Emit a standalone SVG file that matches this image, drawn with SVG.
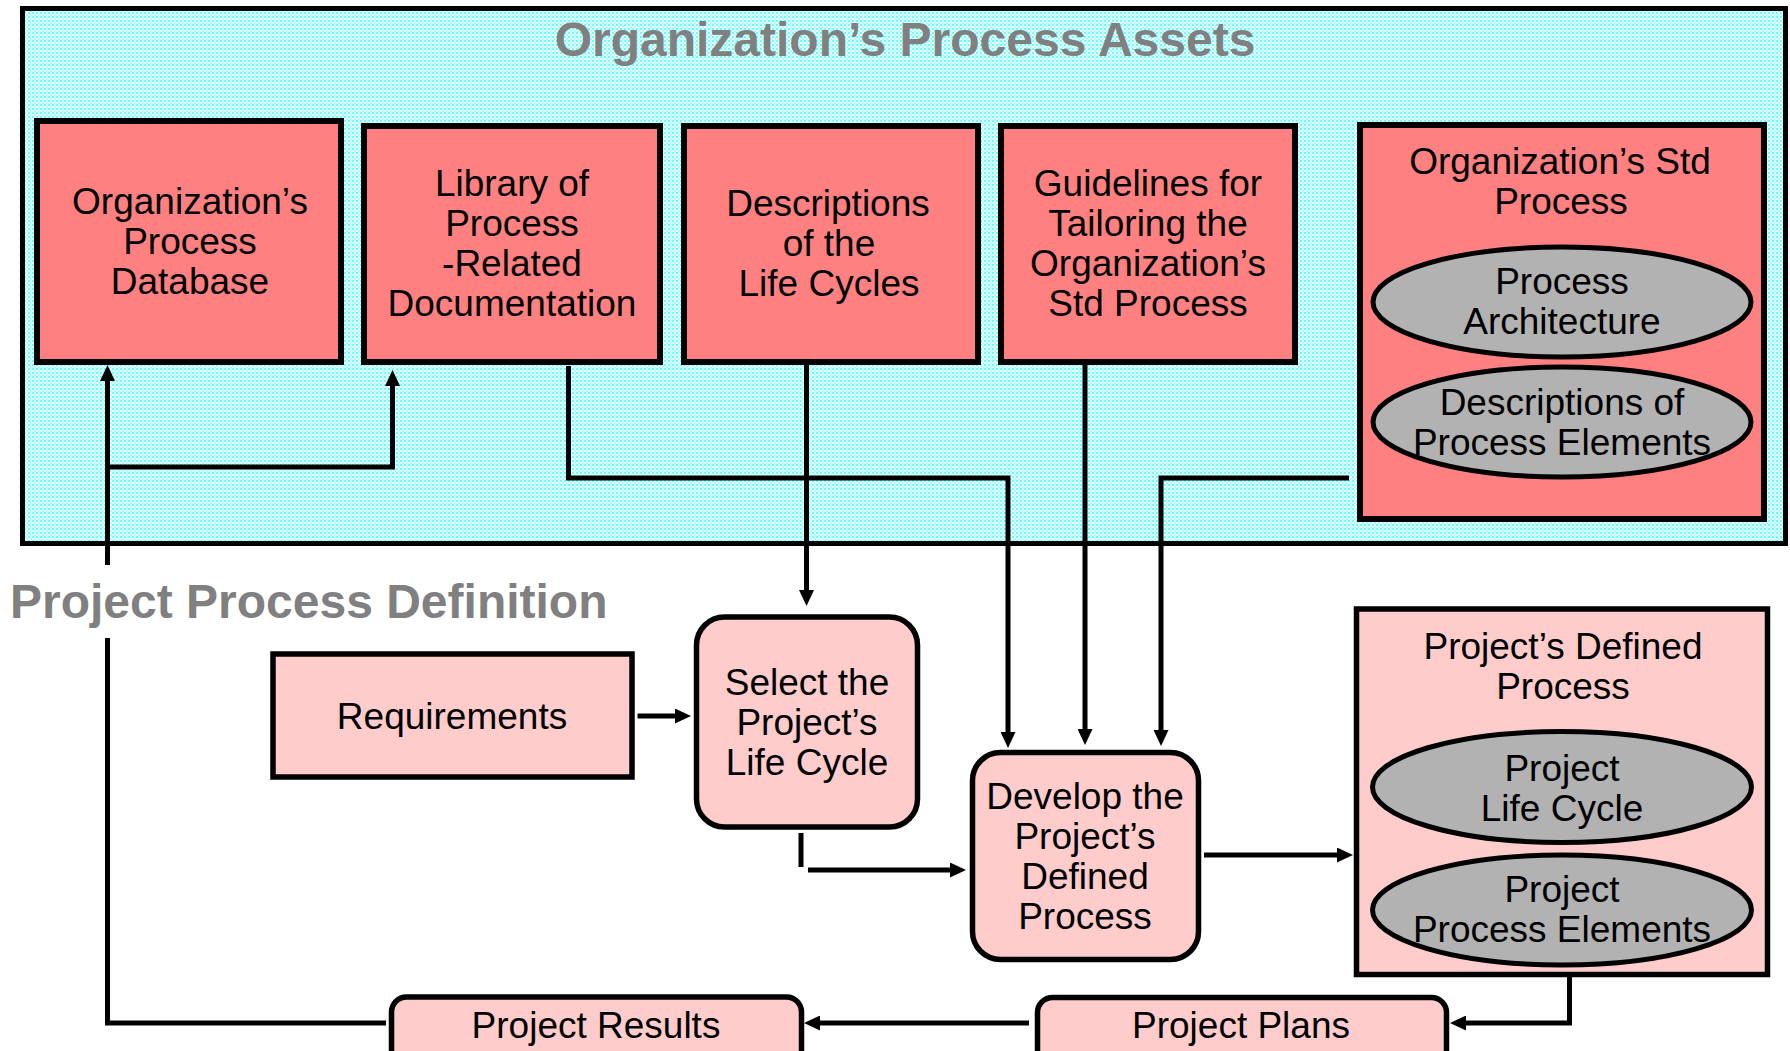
<svg xmlns="http://www.w3.org/2000/svg" width="1790" height="1051" viewBox="0 0 1790 1051">
<defs>
<pattern id="dots" width="4" height="4" patternUnits="userSpaceOnUse">
<rect width="4" height="4" fill="#E8FFFF"/>
<rect x="0" y="0" width="2" height="2" fill="#66FFFF"/>
<rect x="2" y="2" width="2" height="2" fill="#B0FFFF"/>
</pattern>
<marker id="arr" viewBox="0 0 16 15" refX="2" refY="7.5" markerWidth="16" markerHeight="15" markerUnits="userSpaceOnUse" orient="auto">
<path d="M0,0 L16,7.5 L0,15 z" fill="#000"/>
</marker>
<style>
text{font-family:"Liberation Sans",Arial,Helvetica,sans-serif;fill:#000;text-anchor:middle;font-size:37px}
.title{font-weight:bold;fill:#808080;font-size:48px}
.asset{fill:#FF8080;stroke:#000;stroke-width:6}
.proj{fill:#FFCCCC;stroke:#000;stroke-width:5.5}
.ell{fill:#B2B2B2;stroke:#000;stroke-width:5}
.conn{fill:none;stroke:#000;stroke-width:5}
.arrow{marker-end:url(#arr)}
</style>
</defs>
<rect width="1790" height="1051" fill="#FFFFFF"/>

<g id="org-process-assets">
<rect x="22.5" y="8.5" width="1763" height="535" fill="url(#dots)" stroke="#000" stroke-width="5"/>
<text class="title" x="905" y="56">Organization’s Process Assets</text>
</g>

<g id="org-process-database">
<rect class="asset" x="37" y="121" width="304" height="241"/>
<text x="190" y="214">Organization’s</text>
<text x="190" y="254">Process</text>
<text x="190" y="294">Database</text>
</g>

<g id="library">
<rect class="asset" x="364" y="126" width="296" height="236"/>
<text x="512" y="196">Library of</text>
<text x="512" y="236">Process</text>
<text x="512" y="276">-Related</text>
<text x="512" y="316">Documentation</text>
</g>

<g id="life-cycles">
<rect class="asset" x="684" y="126" width="294" height="236"/>
<text x="828" y="216">Descriptions</text>
<text x="829" y="256">of the</text>
<text x="829" y="296">Life Cycles</text>
</g>

<g id="tailoring-guidelines">
<rect class="asset" x="1001" y="126" width="294" height="236"/>
<text x="1148" y="196">Guidelines for</text>
<text x="1148" y="236">Tailoring the</text>
<text x="1148" y="276">Organization’s</text>
<text x="1148" y="316">Std Process</text>
</g>

<g id="org-std-process">
<rect class="asset" x="1360" y="125" width="404" height="394"/>
<text x="1560" y="174">Organization’s Std</text>
<text x="1561" y="214">Process</text>
<g id="process-architecture">
<ellipse class="ell" cx="1562" cy="302" rx="189" ry="55"/>
<text x="1562" y="294">Process</text>
<text x="1562" y="334">Architecture</text>
</g>
<g id="process-elements">
<ellipse class="ell" cx="1562" cy="422" rx="189" ry="55"/>
<text x="1562" y="415">Descriptions of</text>
<text x="1562" y="455">Process Elements</text>
</g>
</g>

<g id="project-process-definition">
<text class="title" x="10" y="618" style="text-anchor:start">Project Process Definition</text>
</g>

<g id="requirements">
<rect class="proj" x="273" y="654" width="359" height="123"/>
<text x="452" y="729">Requirements</text>
</g>

<g id="select-life-cycle">
<rect class="proj" x="696.5" y="617" width="221" height="210" rx="28" ry="28"/>
<text x="807" y="695">Select the</text>
<text x="807" y="735">Project’s</text>
<text x="807" y="775">Life Cycle</text>
</g>

<g id="develop-defined-process">
<rect class="proj" x="972.5" y="752.5" width="226" height="207" rx="28" ry="28"/>
<text x="1085" y="809">Develop the</text>
<text x="1085" y="849">Project’s</text>
<text x="1085" y="889">Defined</text>
<text x="1085" y="929">Process</text>
</g>

<g id="projects-defined-process">
<rect class="proj" x="1356.5" y="609" width="411" height="365.5"/>
<text x="1563" y="659">Project’s Defined</text>
<text x="1563" y="699">Process</text>
<g id="project-life-cycle">
<ellipse class="ell" cx="1562" cy="787" rx="189.5" ry="55.5"/>
<text x="1562" y="781">Project</text>
<text x="1562" y="821">Life Cycle</text>
</g>
<g id="project-process-elements">
<ellipse class="ell" cx="1562" cy="910" rx="189.5" ry="55"/>
<text x="1562" y="902">Project</text>
<text x="1562" y="942">Process Elements</text>
</g>
</g>

<g id="project-results">
<rect class="proj" x="391.5" y="997" width="410" height="70" rx="15" ry="15"/>
<text x="596" y="1038">Project Results</text>
</g>

<g id="project-plans">
<rect class="proj" x="1037.5" y="997.5" width="409" height="70" rx="15" ry="15"/>
<text x="1241" y="1038">Project Plans</text>
</g>

<g id="connectors">
<path class="conn arrow" d="M386,1023 H107.5 V638 M107.5,565 V379"/>
<path class="conn arrow" d="M107.5,467 H392.5 V384"/>
<path class="conn arrow" d="M568.5,366 V478 H1008 V734"/>
<path class="conn arrow" d="M806.5,365 V592"/>
<path class="conn arrow" d="M1085,365 V731"/>
<path class="conn arrow" d="M1349,478 H1161 V732"/>
<path class="conn arrow" d="M637.5,716 H677"/>
<path class="conn arrow" d="M801,833 V867 M808,870 H952"/>
<path class="conn arrow" d="M1204,855 H1339"/>
<path class="conn arrow" d="M1569.5,977 V1023 H1464"/>
<path class="conn arrow" d="M1029,1023 H818"/>
</g>
</svg>
